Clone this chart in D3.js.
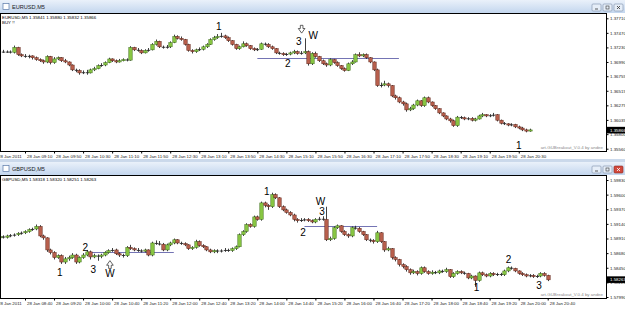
<!DOCTYPE html>
<html>
<head>
<meta charset="utf-8">
<script src="https://cdn.jsdelivr.net/npm/d3@7"></script>
<style>
body { margin: 0; background: #fff; }
svg { display: block; font-family: "Liberation Sans", Arial, sans-serif; }
</style>
</head>
<body>
<svg id="main-svg" width="625" height="310"></svg>
<script>
// ---- EURUSD M5 (bars every 5 min, first bar 08:40, open = previous close) ----
var eurStart = '08:40';
var eurOpen0 = 1.3716;
var eurClose = [
 1.3716,1.3716,1.3715,1.3723,1.3711,1.3709,1.3708,1.3709,1.3706,1.3703,
 1.3701,1.3699,1.3708,1.3698,1.3704,1.3706,1.3701,1.3699,1.3694,1.3686,
 1.3685,1.3681,1.3682,1.3681,1.3686,1.3688,1.3693,1.3694,1.3698,1.3704,
 1.3701,1.3699,1.3701,1.3703,1.3702,1.3723,1.3719,1.3718,1.3714,1.3718,
 1.3719,1.3728,1.3733,1.3724,1.3723,1.3724,1.3731,1.3741,1.3738,1.3736,
 1.3728,1.3718,1.3716,1.3719,1.3720,1.3724,1.3728,1.3736,1.3739,1.3741,
 1.3742,1.3739,1.3734,1.3728,1.3721,1.3724,1.3729,1.3726,1.3721,1.3719,
 1.3720,1.3729,1.3728,1.3724,1.3721,1.3714,1.3713,1.3711,1.3712,1.3714,
 1.3716,1.3713,1.3714,1.3716,1.3696,1.3713,1.3708,1.3701,1.3696,1.3694,
 1.3703,1.3698,1.3693,1.3688,1.3685,1.3696,1.3699,1.3711,1.3709,1.3711,
 1.3706,1.3699,1.3686,1.3660,1.3661,1.3663,1.3660,1.3643,1.3640,1.3633,
 1.3630,1.3620,1.3622,1.3628,1.3635,1.3627,1.3640,1.3633,1.3627,1.3622,
 1.3615,1.3610,1.3605,1.3602,1.3594,1.3608,1.3607,1.3605,1.3606,1.3603,
 1.3605,1.3610,1.3612,1.3610,1.3611,1.3612,1.3603,1.3598,1.3597,1.3595,
 1.3596,1.3592,1.3590,1.3587,1.3585,1.3587];
var eurHigh = [
 1.3719,1.3718,1.3718,1.3726,1.3724,1.3713,1.3712,1.3711,1.3710,1.3708,
 1.3705,1.3703,1.3710,1.3709,1.3707,1.3708,1.3707,1.3704,1.3700,1.3695,
 1.3688,1.3687,1.3685,1.3686,1.3688,1.3691,1.3695,1.3697,1.3700,1.3706,
 1.3705,1.3703,1.3704,1.3705,1.3705,1.3725,1.3724,1.3722,1.3720,1.3720,
 1.3722,1.3730,1.3736,1.3734,1.3726,1.3727,1.3733,1.3744,1.3743,1.3741,
 1.3737,1.3729,1.3720,1.3721,1.3723,1.3726,1.3730,1.3738,1.3742,1.3745,
 1.3747,1.3744,1.3741,1.3735,1.3729,1.3726,1.3733,1.3731,1.3727,1.3723,
 1.3722,1.3731,1.3731,1.3730,1.3726,1.3722,1.3716,1.3715,1.3714,1.3716,
 1.3719,1.3718,1.3717,1.3738,1.3718,1.3715,1.3716,1.3709,1.3703,1.3698,
 1.3705,1.3704,1.3700,1.3694,1.3690,1.3698,1.3702,1.3713,1.3715,1.3713,
 1.3713,1.3707,1.3700,1.3688,1.3665,1.3668,1.3665,1.3661,1.3645,1.3642,
 1.3635,1.3632,1.3625,1.3630,1.3637,1.3636,1.3642,1.3642,1.3634,1.3628,
 1.3623,1.3616,1.3611,1.3607,1.3604,1.3610,1.3610,1.3609,1.3608,1.3608,
 1.3607,1.3612,1.3615,1.3613,1.3613,1.3615,1.3613,1.3604,1.3600,1.3598,
 1.3598,1.3597,1.3594,1.3592,1.3589,1.3589];
var eurLow = [
 1.3714,1.3714,1.3713,1.3713,1.3709,1.3707,1.3706,1.3705,1.3703,1.3701,
 1.3699,1.3696,1.3697,1.3695,1.3696,1.3702,1.3699,1.3697,1.3692,1.3684,
 1.3682,1.3678,1.3679,1.3678,1.3680,1.3684,1.3687,1.3691,1.3692,1.3697,
 1.3699,1.3697,1.3698,1.3700,1.3700,1.3701,1.3717,1.3716,1.3712,1.3713,
 1.3716,1.3718,1.3726,1.3722,1.3721,1.3721,1.3722,1.3730,1.3736,1.3734,
 1.3726,1.3716,1.3713,1.3714,1.3717,1.3718,1.3722,1.3727,1.3734,1.3737,
 1.3739,1.3737,1.3732,1.3726,1.3719,1.3719,1.3723,1.3724,1.3719,1.3717,
 1.3717,1.3719,1.3726,1.3722,1.3719,1.3712,1.3711,1.3709,1.3709,1.3710,
 1.3712,1.3711,1.3711,1.3712,1.3693,1.3694,1.3706,1.3699,1.3694,1.3691,
 1.3692,1.3696,1.3691,1.3686,1.3683,1.3684,1.3694,1.3698,1.3707,1.3707,
 1.3704,1.3697,1.3684,1.3658,1.3657,1.3659,1.3657,1.3641,1.3637,1.3631,
 1.3627,1.3617,1.3618,1.3620,1.3626,1.3625,1.3625,1.3631,1.3625,1.3620,
 1.3613,1.3608,1.3603,1.3599,1.3592,1.3592,1.3605,1.3603,1.3603,1.3601,
 1.3601,1.3604,1.3608,1.3608,1.3608,1.3609,1.3601,1.3596,1.3595,1.3593,
 1.3593,1.3590,1.3588,1.3585,1.3583,1.3584];
var eurPriceTicks = [1.37710, 1.37470, 1.37230, 1.36990, 1.36755, 1.36515, 1.36275, 1.36035, 1.35800, 1.35560];
var eurTimeTicks = ['08:30','09:10','09:50','10:30','11:10','11:50','12:30','13:10','13:50','14:30',
                    '15:10','15:50','16:30','17:10','17:50','18:30','19:10','19:50','20:30'];
var eurLast = 1.35866;
var eurInfo = ['EURUSD,M5  1.35841 1.35880 1.35832 1.35866', 'BUY !!'];
var eurLevels = [[1.3706, '14:30', '17:45']];
var eurMarks = [
  ['1', '13:37', 1.37567], ['3', '15:27', 1.3732], ['W', '15:47', 1.3743],
  ['2', '15:12', 1.3697], ['1', '20:30', 1.35605]];
var eurArrows = [['down', '15:31', 1.3752]];

// ---- GBPUSD M5 (first bar 08:00) ----
var gbpStart = '08:00';
var gbpOpen0 = 1.5891;
var gbpClose = [
 1.5892,1.5894,1.5893,1.5895,1.5896,1.5897,1.5899,1.5900,1.5902,1.5905,
 1.5906,1.5910,1.5895,1.5892,1.5873,1.5869,1.5861,1.5864,1.5854,1.5859,
 1.5861,1.5865,1.5854,1.5861,1.5865,1.5870,1.5862,1.5864,1.5863,1.5865,
 1.5869,1.5872,1.5873,1.5867,1.5865,1.5864,1.5877,1.5875,1.5873,1.5872,
 1.5871,1.5873,1.5865,1.5884,1.5883,1.5882,1.5873,1.5881,1.5884,1.5889,
 1.5884,1.5883,1.5881,1.5875,1.5877,1.5886,1.5880,1.5878,1.5873,1.5870,
 1.5872,1.5871,1.5872,1.5873,1.5872,1.5875,1.5878,1.5897,1.5902,1.5913,
 1.5910,1.5925,1.5921,1.5947,1.5943,1.5941,1.5960,1.5955,1.5941,1.5936,
 1.5932,1.5928,1.5921,1.5919,1.5920,1.5921,1.5919,1.5917,1.5921,1.5922,
 1.5921,1.5889,1.5891,1.5908,1.5911,1.5902,1.5897,1.5895,1.5908,1.5907,
 1.5902,1.5897,1.5889,1.5888,1.5886,1.5900,1.5886,1.5873,1.5875,1.5861,
 1.5858,1.5850,1.5847,1.5842,1.5837,1.5839,1.5836,1.5845,1.5839,1.5836,
 1.5838,1.5837,1.5840,1.5839,1.5842,1.5831,1.5836,1.5839,1.5837,1.5836,
 1.5829,1.5832,1.5825,1.5837,1.5834,1.5832,1.5836,1.5834,1.5835,1.5834,
 1.5840,1.5845,1.5844,1.5840,1.5836,1.5834,1.5832,1.5833,1.5831,1.5832,
 1.5836,1.5833,1.5826];
var gbpHigh = [
 1.5894,1.5896,1.5896,1.5897,1.5898,1.5899,1.5901,1.5902,1.5904,1.5907,
 1.5908,1.5913,1.5912,1.5897,1.5893,1.5875,1.5871,1.5866,1.5866,1.5862,
 1.5864,1.5868,1.5867,1.5863,1.5868,1.5873,1.5872,1.5867,1.5866,1.5867,
 1.5871,1.5874,1.5876,1.5875,1.5869,1.5867,1.5879,1.5881,1.5877,1.5876,
 1.5874,1.5875,1.5874,1.5886,1.5888,1.5887,1.5884,1.5883,1.5886,1.5891,
 1.5890,1.5886,1.5885,1.5882,1.5879,1.5889,1.5888,1.5882,1.5879,1.5875,
 1.5874,1.5874,1.5874,1.5876,1.5875,1.5877,1.5880,1.5899,1.5904,1.5915,
 1.5915,1.5927,1.5927,1.5949,1.5949,1.5945,1.5963,1.5962,1.5956,1.5943,
 1.5938,1.5934,1.5930,1.5923,1.5923,1.5923,1.5923,1.5921,1.5923,1.5925,
 1.5926,1.5941,1.5894,1.5910,1.5913,1.5912,1.5904,1.5899,1.5910,1.5911,
 1.5909,1.5903,1.5898,1.5891,1.5890,1.5903,1.5901,1.5887,1.5878,1.5876,
 1.5863,1.5859,1.5852,1.5849,1.5844,1.5842,1.5841,1.5847,1.5847,1.5841,
 1.5841,1.5840,1.5842,1.5842,1.5845,1.5843,1.5838,1.5841,1.5841,1.5839,
 1.5837,1.5834,1.5833,1.5839,1.5839,1.5836,1.5838,1.5838,1.5837,1.5837,
 1.5842,1.5847,1.5847,1.5845,1.5841,1.5838,1.5836,1.5835,1.5835,1.5834,
 1.5838,1.5838,1.5834];
var gbpLow = [
 1.5889,1.5890,1.5891,1.5891,1.5893,1.5894,1.5895,1.5897,1.5898,1.5900,
 1.5903,1.5904,1.5893,1.5889,1.5870,1.5866,1.5858,1.5859,1.5851,1.5851,
 1.5856,1.5859,1.5851,1.5852,1.5859,1.5863,1.5858,1.5860,1.5856,1.5860,
 1.5863,1.5867,1.5870,1.5865,1.5862,1.5861,1.5862,1.5873,1.5871,1.5870,
 1.5869,1.5869,1.5863,1.5863,1.5881,1.5880,1.5871,1.5871,1.5879,1.5882,
 1.5882,1.5881,1.5879,1.5873,1.5873,1.5875,1.5878,1.5876,1.5871,1.5868,
 1.5868,1.5868,1.5869,1.5870,1.5870,1.5870,1.5873,1.5877,1.5895,1.5900,
 1.5908,1.5908,1.5919,1.5919,1.5940,1.5936,1.5939,1.5953,1.5939,1.5934,
 1.5930,1.5926,1.5918,1.5916,1.5917,1.5918,1.5917,1.5915,1.5915,1.5919,
 1.5919,1.5887,1.5887,1.5889,1.5906,1.5900,1.5895,1.5892,1.5893,1.5905,
 1.5900,1.5895,1.5887,1.5885,1.5883,1.5884,1.5884,1.5870,1.5871,1.5858,
 1.5855,1.5847,1.5844,1.5839,1.5834,1.5835,1.5833,1.5834,1.5837,1.5834,
 1.5834,1.5835,1.5835,1.5837,1.5837,1.5829,1.5829,1.5834,1.5835,1.5834,
 1.5827,1.5827,1.5815,1.5823,1.5832,1.5830,1.5830,1.5832,1.5832,1.5832,
 1.5832,1.5838,1.5842,1.5838,1.5834,1.5832,1.5830,1.5830,1.5829,1.5829,
 1.5830,1.5831,1.5824];
var gbpPriceTicks = [1.59830, 1.59600, 1.59370, 1.59140, 1.58910, 1.58680, 1.58450, 1.58220, 1.57990];
var gbpTimeTicks = ['08:00','08:40','09:20','10:00','10:40','11:20','12:00','12:40','13:20','14:00',
                    '14:40','15:20','16:00','16:40','17:20','18:00','18:40','19:20','20:00','20:40'];
var gbpLast = 1.58263;
var gbpInfo = ['GBPUSD,M5  1.58318 1.58320 1.58251 1.58263'];
var gbpLevels = [[1.5870, '10:05', '12:05'], [1.5911, '15:05', '16:45']];
var gbpMarks = [
  ['1', '09:28', 1.58383], ['2', '10:03', 1.58761], ['3', '10:14', 1.58415], ['W', '10:37', 1.58352],
  ['1', '14:13', 1.59642], ['W', '15:27', 1.59490], ['3', '15:29', 1.59330], ['2', '15:03', 1.58997],
  ['1', '19:02', 1.58132], ['2', '19:46', 1.58572], ['3', '20:28', 1.58163]];
var gbpArrows = [['up', '10:37', 1.5851]];

var hm = d3.timeParse('%H:%M');
var svg = d3.select('#main-svg');

var defs = svg.append('defs');
var grad = defs.append('linearGradient').attr('id', 'tbar').attr('x1', 0).attr('y1', 0).attr('x2', 0).attr('y2', 1);
grad.append('stop').attr('offset', '0%').attr('stop-color', '#eaf1fa');
grad.append('stop').attr('offset', '100%').attr('stop-color', '#c3d6ee');

// window frame background
svg.append('rect').attr('width', 625).attr('height', 310).attr('fill', '#cbd9eb');

function drawPanel(p) {
    var x = d3.scaleTime().domain([hm(p.xRef[0]), hm(p.xRef[1])]).range(p.xRange);
    var y = d3.scaleLinear().domain(p.yDomain).range(p.yRange);
    var fTop = p.frame[0], fBot = p.frame[1], fRight = 606.5;

    // title bar
    svg.append('rect').attr('x', 0).attr('y', p.barTop).attr('width', 625).attr('height', 13)
        .attr('fill', 'url(#tbar)');
    svg.append('rect').attr('x', 3).attr('y', p.barTop + 3.5).attr('width', 6).attr('height', 6)
        .attr('fill', '#fff').attr('stroke', '#5b7aa8').attr('stroke-width', 0.7);
    svg.append('text').attr('x', 12).attr('y', p.barTop + 8.6).attr('font-size', 5.6)
        .attr('fill', '#1a1a1a').text(p.title);
    ['min', 'max', 'close'].forEach(function(b, i) {
        var bx = 592 + i * 11, by = p.barTop + 4;
        var red = p.active && b == 'close';
        svg.append('rect').attr('x', bx).attr('y', by).attr('width', 9).attr('height', 7).attr('rx', 1)
            .attr('fill', red ? '#d2493d' : '#e6eef8').attr('stroke', red ? '#8a2a22' : '#7d8fa8')
            .attr('stroke-width', 0.6);
        var c = red ? '#fff' : '#333';
        if (b == 'min')
            svg.append('line').attr('x1', bx + 3).attr('x2', bx + 6).attr('y1', by + 5).attr('y2', by + 5)
                .attr('stroke', c).attr('stroke-width', 0.8);
        else if (b == 'max')
            svg.append('rect').attr('x', bx + 3).attr('y', by + 2).attr('width', 3).attr('height', 3)
                .attr('fill', 'none').attr('stroke', c).attr('stroke-width', 0.6);
        else
            svg.append('path').attr('d', 'M' + (bx + 3) + ',' + (by + 2) + 'l3,3M' + (bx + 6) + ',' + (by + 2) + 'l-3,3')
                .attr('stroke', c).attr('stroke-width', 0.8);
    });

    // chart window body
    svg.append('rect').attr('x', 0).attr('y', p.barTop + 13).attr('width', 625).attr('height', p.bodyH)
        .attr('fill', '#fff');

    var clipId = 'clip_' + p.id;
    defs.append('clipPath').attr('id', clipId).append('rect')
        .attr('x', 0).attr('y', fTop).attr('width', fRight).attr('height', fBot - fTop);

    // info text
    p.info.forEach(function(s, i) {
        svg.append('text').attr('x', 2).attr('y', fTop + 5.5 + i * 5.2).attr('font-size', 4.4)
            .attr('fill', '#000').text(s);
    });

    // level lines
    var plot = svg.append('g').attr('clip-path', 'url(#' + clipId + ')');
    plot.selectAll('.level').data(p.levels).enter().append('line')
        .attr('x1', function(d) { return x(hm(d[1])); })
        .attr('x2', function(d) { return x(hm(d[2])); })
        .attr('y1', function(d) { return Math.round(y(d[0])) + 0.5; })
        .attr('y2', function(d) { return Math.round(y(d[0])) + 0.5; })
        .attr('stroke', '#7474b4').attr('stroke-width', 1);

    // candles
    var t0 = hm(p.start);
    var bars = p.close.map(function(c, i) {
        return { t: d3.timeMinute.offset(t0, 5 * i), o: i ? p.close[i - 1] : p.open0, h: p.high[i], l: p.low[i], c: c };
    });
    var cg = plot.append('g');
    cg.selectAll('.wick').data(bars).enter().append('line')
        .attr('x1', function(d) { return Math.round(x(d.t)) + 0.5; })
        .attr('x2', function(d) { return Math.round(x(d.t)) + 0.5; })
        .attr('y1', function(d) { return y(d.h); })
        .attr('y2', function(d) { return y(d.l); })
        .attr('stroke', '#2a2a2a').attr('stroke-width', 0.9);
    cg.selectAll('.body').data(bars).enter().append('rect')
        .attr('x', function(d) { return Math.round(x(d.t)) - 1.2; })
        .attr('width', 3.4)
        .attr('y', function(d) { return Math.min(y(d.o), y(d.c)); })
        .attr('height', function(d) { return Math.max(0.9, Math.abs(y(d.o) - y(d.c))); })
        .attr('fill', function(d) {
            if (Math.abs(y(d.o) - y(d.c)) < 1) return '#2a2a2a';
            return d.c > d.o ? '#88c643' : '#b8604d';
        })
        .attr('stroke', function(d) {
            if (Math.abs(y(d.o) - y(d.c)) < 1) return 'none';
            return d.c > d.o ? '#3d6a1c' : '#5e2419';
        })
        .attr('stroke-width', 0.5);

    // wave marks
    plot.selectAll('.mark').data(p.marks).enter().append('text')
        .attr('x', function(d) { return x(hm(d[1])); })
        .attr('y', function(d) { return y(d[2]); })
        .attr('text-anchor', 'middle').attr('dominant-baseline', 'central')
        .attr('font-family', 'Arial, "Liberation Sans", sans-serif')
        .attr('font-size', 10)
        .attr('fill', '#000').text(function(d) { return d[0]; });
    plot.selectAll('.arrow').data(p.arrows).enter().append('path')
        .attr('transform', function(d) {
            return 'translate(' + x(hm(d[1])) + ',' + y(d[2]) + ')' + (d[0] == 'up' ? ' rotate(180)' : '');
        })
        .attr('d', 'M-1.3,-4.5h2.6v3.2h2l-3.3,4.6l-3.3,-4.6h2z')
        .attr('fill', '#fff').attr('stroke', '#222').attr('stroke-width', 0.7);

    // watermark
    svg.append('text').attr('x', 603).attr('y', fBot - 3).attr('text-anchor', 'end')
        .attr('font-size', 4.4).attr('fill', '#8a8a8a').text('art-GUBreakout_V.0.4 by andee');

    // frame
    svg.append('rect').attr('x', 0.5).attr('y', fTop).attr('width', fRight - 0.5).attr('height', fBot - fTop)
        .attr('fill', 'none').attr('stroke', '#000').attr('stroke-width', 1);

    // price axis
    var ya = svg.append('g').attr('transform', 'translate(' + fRight + ',0)')
        .call(d3.axisRight(y).tickValues(p.yTicks).tickSize(2).tickPadding(1.5).tickFormat(d3.format('.5f')));
    ya.select('.domain').remove();
    ya.selectAll('text').attr('font-size', 4.4).attr('fill', '#222').attr('font-family', '"Liberation Sans", Arial');
    ya.selectAll('line').attr('stroke', '#000');

    // current price box (covers the nearby tick label, as in the terminal)
    svg.append('rect').attr('x', 607).attr('y', y(p.last) - 3.3).attr('width', 18).attr('height', 6.6).attr('fill', '#000');
    svg.append('text').attr('x', 610).attr('y', y(p.last) + 1.6).attr('font-size', 4.4).attr('fill', '#fff')
        .text(d3.format('.5f')(p.last));

    // time axis
    var xa = svg.append('g').attr('transform', 'translate(0,' + fBot + ')')
        .call(d3.axisBottom(x).tickValues(p.xTicks.map(hm)).tickSize(2).tickPadding(1)
            .tickFormat(function(d, i) { return i == 0 ? '28 Jan 2011' : '28 Jan ' + d3.timeFormat('%H:%M')(d); }));
    xa.select('.domain').remove();
    xa.selectAll('text').attr('text-anchor', 'start').attr('x', 1.5)
        .attr('font-size', 4.4).attr('fill', '#222').attr('font-family', '"Liberation Sans", Arial');
    xa.selectAll('line').attr('stroke', '#000');
}

drawPanel({
    id: 'eur', title: 'EURUSD,M5', barTop: 0, bodyH: 146, frame: [13.5, 151.5], active: false,
    xRef: ['09:10', '20:40'], xRange: [25, 526],
    yDomain: [1.3556, 1.3771], yRange: [148.7, 18.3],
    start: eurStart, open0: eurOpen0, close: eurClose, high: eurHigh, low: eurLow,
    yTicks: eurPriceTicks, xTicks: eurTimeTicks, last: eurLast, info: eurInfo,
    levels: eurLevels, marks: eurMarks, arrows: eurArrows
});

drawPanel({
    id: 'gbp', title: 'GBPUSD,M5', barTop: 162, bodyH: 144, frame: [175.5, 298.5], active: true,
    xRef: ['08:40', '20:40'], xRange: [25, 547.7],
    yDomain: [1.5799, 1.5983], yRange: [297, 180],
    start: gbpStart, open0: gbpOpen0, close: gbpClose, high: gbpHigh, low: gbpLow,
    yTicks: gbpPriceTicks, xTicks: gbpTimeTicks, last: gbpLast, info: gbpInfo,
    levels: gbpLevels, marks: gbpMarks, arrows: gbpArrows
});
</script>
</body>
</html>
